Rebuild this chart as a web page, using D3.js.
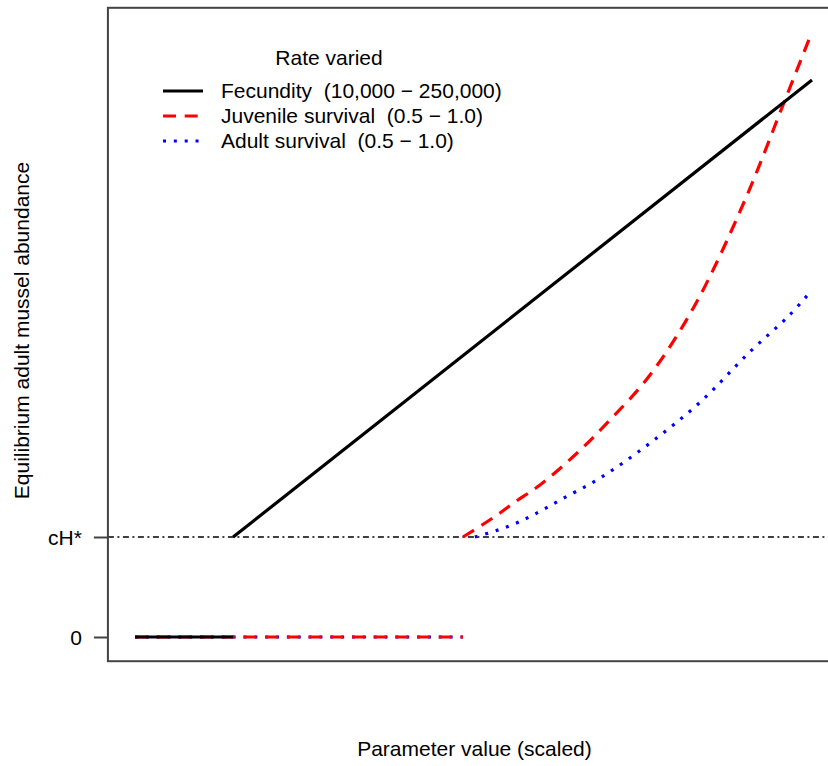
<!DOCTYPE html>
<html>
<head>
<meta charset="utf-8">
<script src="https://cdn.jsdelivr.net/npm/d3@7"></script>
<style>
  body { margin: 0; background: #fff; }
  svg text { font-family: "Liberation Sans", Arial, Helvetica, sans-serif; fill: #000; white-space: pre; }
</style>
</head>
<body>
<div id="chart"></div>
<script>
// values (x = scaled parameter, y = abundance with cH* = 1)
var yTickValues = [0, 1];
var yTickLabels = ["0", "cH*"];
var cHstar = 1;

var fecFlatX = [0, 0.145];
var fecFlatY = [0, 0];
var fecX = [0.145, 1.0];
var fecY = [1.0, 5.57];

var juvFlatX = [0, 0.4845];
var juvFlatY = [0, 0];
var juvX = [0.4845, 0.5126, 0.5391, 0.5613, 0.5982, 0.6499, 0.7016, 0.7607, 0.8272, 0.9010, 0.9601, 1.0];
var juvY = [1.00, 1.12, 1.24, 1.35, 1.52, 1.82, 2.17, 2.62, 3.32, 4.37, 5.37, 6.05];

var adFlatX = [0, 0.4845];
var adFlatY = [0, 0];
var adX = [0.502, 0.532, 0.560, 0.588, 0.628, 0.687, 0.761, 0.835, 0.908, 0.967, 1.0];
var adY = [1.00, 1.06, 1.13, 1.22, 1.37, 1.59, 1.94, 2.35, 2.85, 3.22, 3.47];

var legendTitle = "Rate varied";
var legendLabels = ["Fecundity  (10,000 \u2212 250,000)", "Juvenile survival  (0.5 \u2212 1.0)", "Adult survival  (0.5 \u2212 1.0)"];

var W = 828, H = 766;
var dashRed = "13,8.7", dotBlue = "3,7.85";
var fs = "21px";

var svg = d3.select("#chart").append("svg")
	.attr("width", W)
	.attr("height", H);

var xScale = d3.scaleLinear().domain([0, 1]).range([135, 812]);
var yScale = d3.scaleLinear().domain([0, 6.05]).range([637, 32]);

// R style 4% extension for the box
var xr = xScale.domain(), yr = yScale.domain();
var boxL = xScale(xr[0] - 0.04 * (xr[1] - xr[0])),
	boxR = xScale(xr[1] + 0.04 * (xr[1] - xr[0])),
	boxT = yScale(yr[1] + 0.04 * (yr[1] - yr[0])),
	boxB = yScale(yr[0] - 0.04 * (yr[1] - yr[0]));

function pts(xs, ys) {
	return xs.map(function(d, i) { return [xScale(d), yScale(ys[i])]; });
}
var line = d3.line().curve(d3.curveCatmullRom);

// cH* reference line
svg.append("line")
	.attr("x1", boxL).attr("x2", boxR)
	.attr("y1", yScale(cHstar)).attr("y2", yScale(cHstar))
	.attr("stroke", "#000")
	.attr("stroke-width", 1.3)
	.attr("stroke-dasharray", "6,3.5,2,3.5");

// curves: adult (blue dots), juvenile (red dashes), fecundity (black)
function draw(d, col, dash) {
	svg.append("path")
		.attr("d", line(d))
		.attr("fill", "none")
		.attr("stroke", col)
		.attr("stroke-width", 3.2)
		.attr("stroke-dasharray", dash)
		.attr("stroke-linejoin", "round");
}
draw(pts(adFlatX, adFlatY), "#0000ff", dotBlue);
draw(pts(adX, adY), "#0000ff", dotBlue);
draw(pts(juvFlatX, juvFlatY), "#ff0000", dashRed);
draw(pts(juvX, juvY), "#ff0000", dashRed);
draw(pts(fecFlatX, fecFlatY), "#000", null);
draw(pts(fecX, fecY), "#000", null);

// box
svg.append("rect")
	.attr("x", boxL).attr("y", boxT)
	.attr("width", boxR - boxL).attr("height", boxB - boxT)
	.attr("fill", "none")
	.attr("stroke", "#444")
	.attr("stroke-width", 2);

// y axis
var yAxis = d3.axisLeft(yScale)
	.tickValues(yTickValues)
	.tickFormat(function(d, i) { return yTickLabels[i]; })
	.tickSize(14)
	.tickPadding(12);

var gy = svg.append("g")
	.attr("transform", "translate(" + boxL + ",0)")
	.call(yAxis);
gy.select(".domain").remove();
gy.selectAll(".tick line").attr("stroke", "#444").attr("stroke-width", 2);
gy.selectAll(".tick text")
	.attr("font-size", fs)
	.attr("dy", "0.35em")
	.style("font-family", "'Liberation Sans', Arial, sans-serif")
	.attr("fill", "#000");

// axis titles
svg.append("text")
	.attr("x", (boxL + boxR) / 2 + 1)
	.attr("y", 756)
	.attr("text-anchor", "middle")
	.attr("font-size", fs)
	.text("Parameter value (scaled)");

svg.append("text")
	.attr("transform", "translate(29," + ((boxT + boxB) / 2 - 4) + ") rotate(-90)")
	.attr("text-anchor", "middle")
	.attr("font-size", fs)
	.text("Equilibrium adult mussel abundance");

// legend
var legend = svg.append("g");
legend.append("text")
	.attr("x", 329).attr("y", 58)
	.attr("dy", "0.35em")
	.attr("text-anchor", "middle")
	.attr("font-size", fs)
	.text(legendTitle);

var legCols = ["#000", "#ff0000", "#0000ff"];
var legDash = [null, dashRed, dotBlue];
legendLabels.forEach(function(lab, i) {
	var yy = 91 + i * 25;
	legend.append("line")
		.attr("x1", 163).attr("x2", 203)
		.attr("y1", yy).attr("y2", yy)
		.attr("stroke", legCols[i])
		.attr("stroke-width", 3.2)
		.attr("stroke-dasharray", legDash[i]);
	legend.append("text")
		.attr("x", 221).attr("y", yy)
		.attr("dy", "0.35em")
		.attr("font-size", fs)
		.text(lab);
});
</script>
</body>
</html>
